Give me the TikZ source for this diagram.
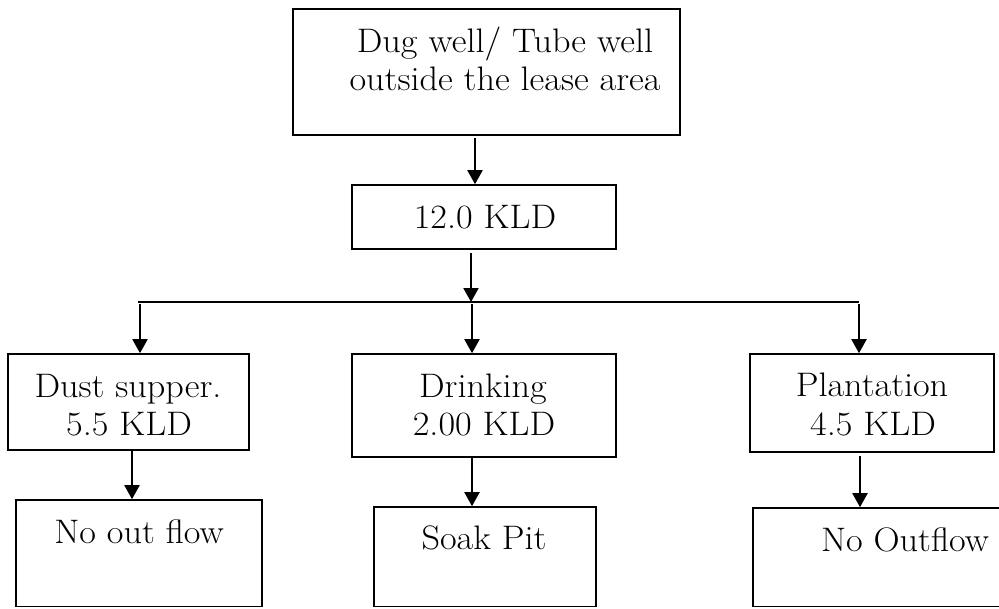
\documentclass[tikz,border=0pt]{standalone}
\usepackage{graphicx}
\usetikzlibrary{arrows.meta,fit}
\newcommand{\wide}[1]{\scalebox{1.065}[1]{#1}}
\begin{document}
\begin{tikzpicture}[x=1pt,y=-1pt,
  box/.style={draw,line width=1.6pt,inner sep=0pt},
  txt/.style={anchor=base,inner sep=0pt,font=\fontsize{34}{40}\selectfont},
  arr/.style={line width=2pt,-{Triangle[length=14pt,width=15pt]}},
  barline/.style={line width=1.4pt}]
\useasboundingbox (0,0) rectangle (999,608);
% boxes
\node[box,fit={(293,9) (680,135)}] (top) {};
\node[box,fit={(352,185) (616,249)}] (kld) {};
\node[box,fit={(8,354) (249,450)}] (dust) {};
\node[box,fit={(352,354) (616,457)}] (drink) {};
\node[box,fit={(750,354) (994,452)}] (plant) {};
\node[box,fit={(16,500) (262,606.5)}] (noout) {};
\node[box,fit={(374,507) (596,606.5)}] (soak) {};
\node[box,fit={(753,508) (1010,606.5)}] (nooutb) {};
% texts
\node[txt] (t1) at (505,52) {\wide{Dug well/ Tube well}};
\node[txt] (t2) at (505,90) {\wide{outside the lease area}};
\node[txt] (t3) at (485,228) {\wide{12.0 KLD}};
\node[txt] (t4) at (128,397) {\wide{Dust supper.}};
\node[txt] (t5) at (129,435) {\wide{5.5 KLD}};
\node[txt] (t6) at (483,397) {\wide{Drinking}};
\node[txt] (t7) at (484,435) {\wide{2.00 KLD}};
\node[txt] (t8) at (872,396) {\wide{Plantation}};
\node[txt] (t9) at (873,435) {\wide{4.5 KLD}};
\node[txt] (t10) at (139,543) {\wide{No out flow}};
\node[txt] (t11) at (484,549) {\wide{Soak Pit}};
\node[txt] (t12) at (905,551) {\wide{No Outflow}};
% connector coordinates
\coordinate (a1) at (475,0);
\coordinate (a2) at (471,302);
\coordinate (barL) at (138,302);
\coordinate (barR) at (859,302);
\coordinate (dl) at (140,304);
\coordinate (dm) at (472,304);
\coordinate (dr) at (859,304);
\coordinate (b1) at (132,0);
\coordinate (b2) at (472,0);
\coordinate (b3) at (860,0);
% connectors
\draw[arr] ([yshift=-2pt]top.south -| a1) -- (kld.north -| a1);
\draw[arr] ([yshift=-3pt]kld.south -| a2) -- (a2);
\draw[barline] (barL) -- (barR);
\draw[arr] (dl) -- (dust.north -| dl);
\draw[arr] (dm) -- (drink.north -| dm);
\draw[arr] (dr) -- (plant.north -| dr);
\draw[arr] (dust.south -| b1) -- (noout.north -| b1);
\draw[arr] (drink.south -| b2) -- (soak.north -| b2);
\draw[arr] ([yshift=-3pt]plant.south -| b3) -- (nooutb.north -| b3);
\end{tikzpicture}
\end{document}
